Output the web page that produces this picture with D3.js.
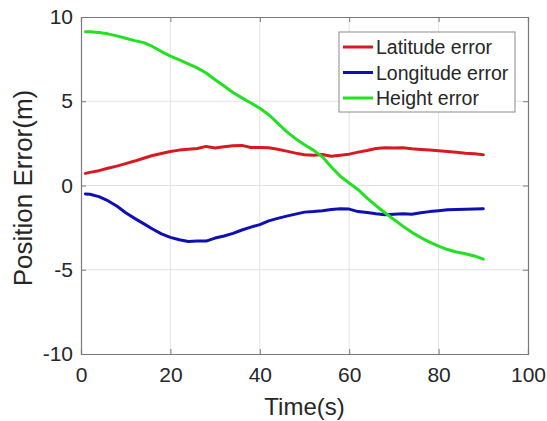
<!DOCTYPE html>
<html>
<head>
<meta charset="utf-8">
<script src="https://cdn.jsdelivr.net/npm/d3@7"></script>
<style>
  html, body { margin: 0; padding: 0; background: #fff; }
  text { font-family: "Liberation Sans", Arial, sans-serif; fill: #262626; }
</style>
</head>
<body>
<svg id="chart" width="547" height="421"></svg>
<script>
// Sample times (s)
const time = [1, 2, 4, 6, 8, 10, 12, 14, 16, 18, 20, 22, 24, 26, 28, 30, 32, 34, 36, 38, 40,
  42, 44, 46, 48, 50, 52, 54, 56, 58, 60, 62, 64, 66, 68, 70, 72, 74, 76, 78, 80,
  82, 84, 86, 88, 90];

// Position errors (m)
const latitudeError = [0.72, 0.78, 0.88, 1.02, 1.15, 1.30, 1.45, 1.62, 1.78, 1.90, 2.02,
  2.10, 2.15, 2.20, 2.32, 2.22, 2.30, 2.36, 2.38, 2.26, 2.25,
  2.24, 2.15, 2.04, 1.92, 1.82, 1.80, 1.84, 1.74, 1.80, 1.86,
  1.98, 2.08, 2.20, 2.24, 2.22, 2.24, 2.18, 2.14, 2.10, 2.06,
  2.02, 1.98, 1.92, 1.88, 1.82];

const longitudeError = [-0.50, -0.52, -0.66, -0.90, -1.22, -1.62, -1.95, -2.26, -2.58, -2.87, -3.08,
  -3.22, -3.32, -3.30, -3.30, -3.12, -3.00, -2.84, -2.64, -2.47, -2.32,
  -2.10, -1.95, -1.82, -1.70, -1.58, -1.55, -1.50, -1.42, -1.38, -1.40,
  -1.55, -1.60, -1.68, -1.74, -1.70, -1.68, -1.70, -1.62, -1.55, -1.50,
  -1.44, -1.42, -1.41, -1.40, -1.38];

const heightError = [9.12, 9.12, 9.08, 9.00, 8.88, 8.74, 8.60, 8.48, 8.25, 7.95, 7.68,
  7.45, 7.22, 6.98, 6.68, 6.28, 5.90, 5.52, 5.20, 4.90, 4.58,
  4.20, 3.70, 3.20, 2.78, 2.42, 2.10, 1.70, 1.10, 0.55, 0.15,
  -0.25, -0.75, -1.20, -1.62, -2.02, -2.41, -2.78, -3.09, -3.36, -3.60,
  -3.80, -3.95, -4.05, -4.18, -4.37];

const seriesNames = ["Latitude error", "Longitude error", "Height error"];
const seriesColors = ["#d61a20", "#0f0fb4", "#22e022"];

const xTicks = [0, 20, 40, 60, 80, 100];
const yTicks = [-10, -5, 0, 5, 10];

const xLabel = "Time(s)";
const yLabel = "Position Error(m)";

const svg = d3.select("#chart");
const margin = { left: 81, top: 17, right: 19, bottom: 67 };
const W = 547, H = 421;
const x = d3.scaleLinear().domain([0, 100]).range([margin.left, W - margin.right]);
const y = d3.scaleLinear().domain([-10, 10]).range([H - margin.bottom, margin.top]);

const axisColor = "#7a7a7a";
const gridColor = "#e3e3e3";

// grid lines
const grid = svg.append("g");
grid.selectAll("line.gx").data(xTicks.slice(1, -1)).join("line")
  .attr("x1", d => x(d)).attr("x2", d => x(d))
  .attr("y1", y(-10)).attr("y2", y(10))
  .attr("stroke", gridColor).attr("stroke-width", 1);
grid.selectAll("line.gy").data(yTicks.slice(1, -1)).join("line")
  .attr("x1", x(0)).attr("x2", x(100))
  .attr("y1", d => y(d)).attr("y2", d => y(d))
  .attr("stroke", gridColor).attr("stroke-width", 1);

// data lines
const series = [latitudeError, longitudeError, heightError];
const line = d3.line().x((d, i) => x(time[i])).y(d => y(d)).curve(d3.curveLinear);
svg.append("g").selectAll("path").data(series).join("path")
  .attr("d", d => line(d))
  .attr("fill", "none")
  .attr("stroke", (d, i) => seriesColors[i])
  .attr("stroke-width", 3)
  .attr("stroke-linejoin", "round")
  .attr("stroke-linecap", "round");

// axes with inward ticks on all four sides; plain hyphen for negatives
const tickLen = 5;
const fmt = d => String(d);
const bottomAxis = d3.axisBottom(x).tickValues(xTicks).tickSize(-tickLen).tickPadding(13).tickFormat(fmt);
const leftAxis = d3.axisLeft(y).tickValues(yTicks).tickSize(-tickLen).tickPadding(8).tickFormat(fmt);
const topAxis = d3.axisTop(x).tickValues(xTicks).tickSize(-tickLen).tickFormat("");
const rightAxis = d3.axisRight(y).tickValues(yTicks).tickSize(-tickLen).tickFormat("");

function styleAxis(g) {
  g.select(".domain").attr("stroke", axisColor).attr("stroke-width", 1.2);
  g.selectAll(".tick line").attr("stroke", axisColor).attr("stroke-width", 1);
  g.selectAll(".tick text").attr("fill", "#262626")
    .style("font-size", "21px").style("font-family", "'Liberation Sans', Arial, sans-serif");
}
svg.append("g").attr("transform", `translate(0,${y(-10)})`).call(bottomAxis).call(styleAxis);
svg.append("g").attr("transform", `translate(${x(0)},0)`).call(leftAxis).call(styleAxis);
svg.append("g").attr("transform", `translate(0,${y(10)})`).call(topAxis).call(styleAxis);
svg.append("g").attr("transform", `translate(${x(100)},0)`).call(rightAxis).call(styleAxis);

// axis titles
svg.append("text")
  .attr("x", (x(0) + x(100)) / 2).attr("y", 415)
  .attr("text-anchor", "middle")
  .style("font-size", "24px")
  .text(xLabel);
svg.append("text")
  .attr("transform", `translate(32,188) rotate(-90)`)
  .attr("text-anchor", "middle")
  .style("font-size", "26px")
  .text(yLabel);

// legend
const lg = svg.append("g").attr("transform", "translate(339,32)");
lg.append("rect").attr("x", 0).attr("y", 0).attr("width", 176).attr("height", 80)
  .attr("fill", "#fff").attr("stroke", "#8a8a8a").attr("stroke-width", 1);
seriesNames.forEach((name, i) => {
  const cy = 15 + i * 25.5;
  lg.append("line").attr("x1", 4).attr("x2", 34).attr("y1", cy).attr("y2", cy)
    .attr("stroke", seriesColors[i]).attr("stroke-width", 3);
  lg.append("text").attr("x", 37).attr("y", cy + 7)
    .style("font-size", "19.5px").text(name);
});
</script>
</body>
</html>
